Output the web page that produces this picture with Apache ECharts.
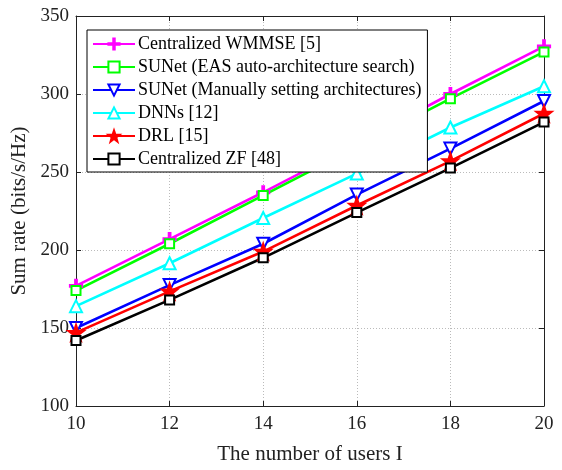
<!DOCTYPE html>
<html>
<head>
<meta charset="utf-8">
<script src="https://cdn.jsdelivr.net/npm/echarts@6/dist/echarts.min.js"></script>
<style>
  html, body { margin: 0; padding: 0; background: #fff; }
  #main { width: 562px; height: 470px; }
</style>
</head>
<body>
<div id="main"></div>
<script>
// number of users
const users = [10, 12, 14, 16, 18, 20]
const yTicks = [100, 150, 200, 250, 300, 350]

// sum rate (bits/s/Hz)
const wmmse = [177, 207, 237, 268, 300, 330.5]
const sunetEas = [174, 204, 235, 266, 297, 327]
const sunetManual = [150, 177.5, 204, 235.5, 265, 295.5]
const dnns = [164, 191.5, 220.5, 249, 278.5, 305]
const drl = [147, 173.5, 199, 228.5, 257, 287.5]
const zf = [142, 168, 195, 224, 252.5, 282]

const FONT = 'Liberation Serif'
const plusPath = 'path://M-1.3,-10 L1.3,-10 L1.3,-1.3 L10,-1.3 L10,1.3 L1.3,1.3 L1.3,10 L-1.3,10 L-1.3,1.3 L-10,1.3 L-10,-1.3 L-1.3,-1.3 Z'
const starPath = 'path://M0,-10 L2.35,-3.24 L9.51,-3.09 L3.8,1.24 L5.88,8.09 L0,4 L-5.88,8.09 L-3.8,1.24 L-9.51,-3.09 L-2.35,-3.24 Z'

function mk (name, data, color, symbol, size, rotate) {
  return {
    name: name,
    type: 'line',
    data: users.map((u, i) => [u, data[i]]),
    symbol: symbol,
    symbolSize: size,
    symbolRotate: rotate || 0,
    showAllSymbol: true,
    lineStyle: { color: color, width: 2.6 },
    itemStyle: { color: color, borderColor: color, borderWidth: 2.2 },
    emphasis: { disabled: true },
    animation: false
  }
}

let chart = echarts.init(document.getElementById('main'), null, { renderer: 'canvas' })
let option = {
  backgroundColor: '#fff',
  textStyle: { fontFamily: FONT },
  grid: { left: 76, right: 18, top: 16, bottom: 61, containLabel: false },
  legend: {
    orient: 'vertical',
    left: 87,
    top: 30,
    padding: [5, 6, 4, 5],
    itemWidth: 42,
    itemHeight: 14,
    itemGap: 5,
    backgroundColor: '#fff',
    borderColor: '#000',
    borderWidth: 1,
    borderRadius: 0,
    textStyle: { fontFamily: FONT, fontSize: 18, lineHeight: 18, color: '#000', padding: [0, 0, 0, -2] },
    data: ['Centralized WMMSE [5]', 'SUNet (EAS auto-architecture search)',
      'SUNet (Manually setting architectures)', 'DNNs [12]', 'DRL [15]', 'Centralized ZF [48]']
  },
  xAxis: [{
    type: 'value',
    min: 10, max: 20, interval: 2,
    name: 'The number of users I',
    nameLocation: 'middle',
    nameGap: 38,
    nameTextStyle: { fontFamily: FONT, fontSize: 21, color: '#222' },
    axisLine: { lineStyle: { color: '#222', width: 1 } },
    axisTick: { inside: true, length: 5, lineStyle: { color: '#222' } },
    axisLabel: { fontFamily: FONT, fontSize: 19, color: '#222', margin: 9 },
    splitLine: { show: true, lineStyle: { color: '#bbb', type: [1, 2], width: 1 } }
  }, {
    type: 'value', position: 'top',
    min: 10, max: 20, interval: 2,
    axisLine: { show: true, lineStyle: { color: '#222', width: 1 } },
    axisTick: { inside: true, length: 5, lineStyle: { color: '#222' } },
    axisLabel: { show: false },
    splitLine: { show: false }
  }],
  yAxis: [{
    type: 'value',
    min: 100, max: 350, interval: 50,
    name: 'Sum rate (bits/s/Hz)',
    nameLocation: 'middle',
    nameGap: 43,
    nameTextStyle: { fontFamily: FONT, fontSize: 21, color: '#222' },
    axisLine: { show: true, lineStyle: { color: '#222', width: 1 } },
    axisTick: { inside: true, length: 5, lineStyle: { color: '#222' } },
    axisLabel: { fontFamily: FONT, fontSize: 19, color: '#222', margin: 7 },
    splitLine: { show: true, lineStyle: { color: '#bbb', type: [1, 2], width: 1 } }
  }, {
    type: 'value', position: 'right',
    min: 100, max: 350, interval: 50,
    axisLine: { show: true, lineStyle: { color: '#222', width: 1 } },
    axisTick: { inside: true, length: 5, lineStyle: { color: '#222' } },
    axisLabel: { show: false },
    splitLine: { show: false }
  }],
  series: [
    mk('Centralized WMMSE [5]', wmmse, '#ff00ff', plusPath, 12),
    mk('SUNet (EAS auto-architecture search)', sunetEas, '#00ff00', 'emptyRect', 9),
    mk('SUNet (Manually setting architectures)', sunetManual, '#0000ff', 'emptyTriangle', 12, 180),
    mk('DNNs [12]', dnns, '#00ffff', 'emptyTriangle', 12),
    mk('DRL [15]', drl, '#ff0000', starPath, 15),
    mk('Centralized ZF [48]', zf, '#000000', 'emptyRect', 9)
  ]
}
chart.setOption(option)
</script>
</body>
</html>
